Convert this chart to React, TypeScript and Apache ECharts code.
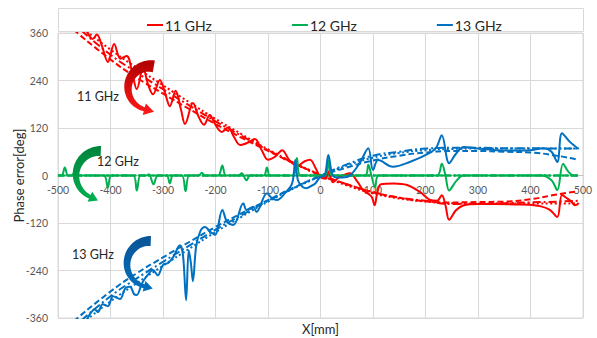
import React, { useEffect, useRef } from "react";
import * as echarts from "echarts";

// ---------- data ----------
const legendNames = ["11 GHz", "12 GHz", "13 GHz"];
const xTicksMin = -500;
const xTicksMax = 500;
const yTicksMin = -360;
const yTicksMax = 360;

// 11 GHz measured
const meas11: [number, number][] = [
  [-446, 368], [-440, 352], [-434, 345], [-426, 356], [-417, 330], [-405, 287], [-393, 332], [-381, 295],
  [-369, 302], [-358, 255], [-350, 218], [-338, 271], [-328, 228], [-319, 205], [-306, 241], [-296, 208],
  [-287, 175], [-276, 214], [-266, 168], [-258, 130], [-243, 183], [-232, 148], [-222, 128], [-211, 153],
  [-200, 128], [-188, 110], [-176, 122], [-165, 98], [-153, 77], [-140, 82], [-125, 92], [-112, 64],
  [-100, 40], [-86, 48], [-73, 64], [-60, 40], [-45, 24], [-30, 36], [-20, 40], [-8, 15], [0, -4],
  [10, -8], [15, 10], [24, -17], [35, -5], [56, 6], [70, -15], [81, -37], [92, -47], [98, -55],
  [103, -75], [108, -45], [115, -22], [140, -20], [165, -24], [190, -42], [209, -62], [222, -64],
  [231, -50], [238, -75], [245, -112], [258, -88], [273, -75], [300, -72], [336, -72], [370, -73],
  [399, -74], [420, -78], [437, -87], [451, -105], [460, -49], [470, -58], [477, -65], [485, -75], [492, -70],
];
const dashed11: [number, number][] = [
  [-470, 368], [-400, 293], [-350, 247], [-300, 207], [-250, 168], [-200, 130], [-150, 95], [-100, 62],
  [-50, 30], [0, 2], [50, -22], [100, -42], [150, -56], [200, -65], [250, -68], [300, -67], [350, -66],
  [400, -60], [450, -48], [490, -40],
];
const dotted11: [number, number][] = [
  [-445, 364], [-400, 318], [-350, 272], [-300, 228], [-250, 185], [-200, 143], [-150, 104], [-100, 66],
  [-50, 32], [0, 2], [50, -25], [100, -45], [150, -58], [200, -66], [250, -70], [300, -71], [350, -71],
  [400, -71], [450, -71], [490, -71],
];
const dashdot11: [number, number][] = [
  [-455, 366], [-400, 305], [-350, 260], [-300, 218], [-250, 177], [-200, 137], [-150, 100], [-100, 64],
  [-50, 31], [0, 0], [50, -22], [100, -42], [150, -56], [200, -64], [250, -72], [300, -72], [350, -70],
  [400, -68], [450, -66], [490, -64],
];

// 12 GHz measured
const meas12: [number, number][] = [
  [-500, 0], [-493, 0], [-487, 20], [-481, 0], [-474, 0], [-470, 5], [-465, 0], [-413, 0], [-405, -30],
  [-398, 0], [-357, 0], [-350, -38], [-343, 0], [-332, 0], [-327, 3], [-318, -22], [-310, 0], [-293, 0],
  [-287, -20], [-281, 0], [-264, 0], [-257, -40], [-250, 0], [-232, 0], [-226, 7], [-220, 0], [-195, 0],
  [-187, 25], [-180, 0], [-156, 0], [-150, 6], [-141, -12], [-134, 0], [-108, 0], [-102, 20], [-96, 0],
  [-52, 0], [-45, 44], [-38, 0], [8, 0], [15, 38], [22, 0], [85, 0], [91, 27], [97, 0], [104, -30],
  [111, 0], [222, 0], [231, 30], [238, 0], [245, -38], [258, -15], [272, 0], [420, 0], [440, -12],
  [451, -37], [462, 30], [472, 10], [482, 0], [490, 0],
];
const dashed12: [number, number][] = [[-500, 0], [490, 0]];
const dotted12: [number, number][] = [[-500, 0], [490, 0]];
const dashdot12: [number, number][] = [[-500, 0], [490, 0]];

// 13 GHz measured
const meas13: [number, number][] = [
  [-446, -368], [-440, -352], [-430, -338], [-424, -345], [-415, -325], [-405, -330], [-395, -305],
  [-382, -312], [-372, -285], [-363, -281], [-355, -300], [-350, -302], [-340, -272], [-329, -251],
  [-319, -239], [-310, -252], [-300, -226], [-290, -221], [-280, -205], [-268, -176], [-262, -200],
  [-256, -315], [-251, -189], [-247, -220], [-243, -267], [-237, -180], [-229, -141], [-220, -130],
  [-210, -142], [-201, -150], [-187, -87], [-178, -117], [-166, -125], [-147, -70], [-141, -87],
  [-128, -79], [-122, -92], [-102, -45], [-93, -57], [-83, -62], [-68, -45], [-54, -20], [-48, 39],
  [-43, -12], [-34, -29], [-26, -32], [-20, -28], [-10, -20], [0, -3], [8, 0], [15, 52], [22, 5],
  [30, -5], [42, -5], [56, 0], [75, 32], [91, 69], [100, 14], [110, 39], [138, 22], [170, 34], [208, 57],
  [221, 72], [231, 102], [245, 31], [258, 55], [273, 72], [300, 68], [336, 64], [370, 63], [399, 64],
  [425, 69], [440, 60], [451, 34], [460, 107], [475, 85], [492, 67],
];
const dashed13: [number, number][] = [
  [-470, -368], [-400, -293], [-350, -247], [-300, -207], [-250, -168], [-200, -130], [-150, -95],
  [-100, -62], [-50, -30], [0, -2], [50, 20], [100, 38], [150, 50], [200, 58], [250, 62], [300, 62],
  [350, 60], [400, 58], [450, 50], [490, 40],
];
const dotted13: [number, number][] = [
  [-445, -364], [-400, -318], [-350, -272], [-300, -228], [-250, -185], [-200, -143], [-150, -104],
  [-100, -66], [-50, -32], [0, -2], [50, 25], [100, 45], [150, 57], [200, 64], [250, 67], [300, 68],
  [350, 68], [400, 68], [450, 68], [490, 68],
];
const dashdot13: [number, number][] = [
  [-455, -366], [-400, -305], [-350, -260], [-300, -218], [-250, -177], [-200, -137], [-150, -100],
  [-100, -64], [-50, -31], [0, 0], [50, 28], [100, 50], [150, 60], [200, 68], [250, 70], [300, 70],
  [350, 69], [400, 69], [450, 68], [490, 68],
];

// ---------- styling ----------
const RED = "#FF0000";
const GREEN = "#00B050";
const BLUE = "#0070C0";
const FONT = "Lato";

const DASH = [6, 3];
const DOT = [2, 2.5];
const DASHDOT = [8, 3, 2, 3];

const GRID_TOP = 33;
const GRID_BOTTOM = 20;
const CHART_H = 338;
const PLOT_H = CHART_H - GRID_TOP - GRID_BOTTOM;

function trend(data: [number, number][], color: string, dash: number[]) {
  return {
    type: "line",
    data,
    showSymbol: false,
    smooth: 0.5,
    silent: true,
    lineStyle: { color, width: 2, type: dash },
    z: 2,
  };
}

function measured(name: string, data: [number, number][], color: string) {
  return {
    name,
    type: "line",
    data,
    showSymbol: false,
    smooth: 0.35,
    lineStyle: { color, width: 2 },
    itemStyle: { color },
    z: 3,
  };
}

function arrowPoints(
  cx: number, cy: number, r: number, a0: number, a1: number,
  w0: number, w1: number, headLen: number, headW: number
): number[][] {
  const n = 40;
  const outer: number[][] = [];
  const inner: number[][] = [];
  for (let i = 0; i <= n; i++) {
    const t = i / n;
    const a = ((a0 + (a1 - a0) * t) * Math.PI) / 180;
    const w = w0 + (w1 - w0) * t;
    outer.push([cx + (r + w / 2) * Math.cos(a), cy + (r + w / 2) * Math.sin(a)]);
    inner.push([cx + (r - w / 2) * Math.cos(a), cy + (r - w / 2) * Math.sin(a)]);
  }
  const ae = (a1 * Math.PI) / 180;
  const bx = cx + r * Math.cos(ae);
  const by = cy + r * Math.sin(ae);
  const dx = Math.sin(ae);
  const dy = -Math.cos(ae);
  const nx = Math.cos(ae);
  const ny = Math.sin(ae);
  const pts = [
    ...outer,
    [bx + (nx * headW) / 2, by + (ny * headW) / 2],
    [bx + dx * headLen, by + dy * headLen],
    [bx - (nx * headW) / 2, by - (ny * headW) / 2],
    ...inner.reverse(),
  ];
  return pts;
}

function grad(top: string, bottom: string) {
  return new echarts.graphic.LinearGradient(0, 0, 0, 1, [
    { offset: 0, color: top },
    { offset: 1, color: bottom },
  ]);
}

export default function App() {
  const ref = useRef<HTMLDivElement>(null);
  useEffect(() => {
    if (!ref.current) return;
    const chart = echarts.init(ref.current, undefined, { renderer: "svg" });
    const option: any = {
      animation: false,
      backgroundColor: "#ffffff",
      textStyle: { fontFamily: FONT },
      grid: {
        left: 58,
        right: 14,
        top: GRID_TOP,
        bottom: GRID_BOTTOM,
        show: true,
        borderColor: "#D9D9D9",
        borderWidth: 1,
        containLabel: false,
        outerBoundsMode: "none",
      },
      legend: {
        data: legendNames,
        left: 142,
        top: 13,
        itemGap: 80,
        itemWidth: 16,
        itemHeight: 2,
        icon: "rect",
        textStyle: { fontFamily: FONT, fontSize: 14, color: "#262626", padding: [0, 0, 0, -3] },
      },
      xAxis: {
        type: "value",
        min: xTicksMin,
        max: xTicksMax,
        interval: 100,
        // axis sits on the zero line (middle of the symmetric y range)
        offset: -PLOT_H / 2,
        name: "X[mm]",
        nameLocation: "middle",
        nameGap: 147,
        nameMoveOverlap: false,
        nameTextStyle: { fontFamily: FONT, fontSize: 13, color: "#262626" },
        axisLine: { onZero: true, lineStyle: { color: "#BFBFBF" } },
        axisTick: { show: false },
        axisLabel: {
          fontFamily: FONT,
          fontSize: 10.5,
          color: "#595959",
          margin: 9,
          showMinLabel: true,
          showMaxLabel: true,
        },
        splitLine: { show: true, lineStyle: { color: "#D9D9D9", width: 1 } },
      },
      yAxis: {
        type: "value",
        min: yTicksMin,
        max: yTicksMax,
        interval: 120,
        name: "Phase error[deg]",
        nameLocation: "middle",
        nameGap: 33,
        nameMoveOverlap: false,
        nameTextStyle: { fontFamily: FONT, fontSize: 13, color: "#262626" },
        axisLine: { show: false, onZero: false },
        axisTick: { show: false },
        axisLabel: { fontFamily: FONT, fontSize: 10.5, color: "#595959", margin: 10 },
        splitLine: { show: true, lineStyle: { color: "#D9D9D9", width: 1 } },
      },
      series: [
        trend(dashed11, RED, DASH),
        trend(dotted11, RED, DOT),
        trend(dashdot11, RED, DASHDOT),
        trend(dashed12, GREEN, DASH),
        trend(dotted12, GREEN, DOT),
        trend(dashdot12, GREEN, DASHDOT),
        trend(dashed13, BLUE, DASH),
        trend(dotted13, BLUE, DOT),
        trend(dashdot13, BLUE, DASHDOT),
        measured(legendNames[0], meas11, RED),
        measured(legendNames[1], meas12, GREEN),
        measured(legendNames[2], meas13, BLUE),
      ],
      graphic: [
        {
          type: "rect",
          z: 0,
          silent: true,
          shape: { x: 58.5, y: 8.5, width: 525, height: 23 },
          style: { fill: "none", stroke: "#D9D9D9", lineWidth: 1 },
        },
        {
          type: "polygon",
          z: 100,
          silent: true,
          shape: { points: arrowPoints(150, 88, 22, -80, -255, 12, 4, 10, 12) },
          style: { fill: grad("#B00000", "#FF1A1A") },
        },
        {
          type: "polygon",
          z: 100,
          silent: true,
          shape: { points: arrowPoints(100, 175, 24, -88, -245, 10, 4, 9, 11) },
          style: { fill: grad("#00843C", "#00B050") },
        },
        {
          type: "polygon",
          z: 100,
          silent: true,
          shape: { points: arrowPoints(150, 264, 23, -88, -255, 10, 4, 9, 11) },
          style: { fill: grad("#0B5495", "#0070C0") },
        },
        {
          type: "text",
          z: 101,
          silent: true,
          left: 77,
          top: 90,
          style: { text: "11 GHz", fontFamily: FONT, fontSize: 12.5, fill: "#262626" },
        },
        {
          type: "text",
          z: 101,
          silent: true,
          left: 97,
          top: 155,
          style: { text: "12 GHz", fontFamily: FONT, fontSize: 12.5, fill: "#262626" },
        },
        {
          type: "text",
          z: 101,
          silent: true,
          left: 72,
          top: 248,
          style: { text: "13 GHz", fontFamily: FONT, fontSize: 12.5, fill: "#262626" },
        },
      ],
    };
    chart.setOption(option);
    return () => chart.dispose();
  }, []);
  return (
    <div
      ref={ref}
      style={{ position: "absolute", left: 0, top: 0, width: 597, height: 338, background: "#fff" }}
    />
  );
}
